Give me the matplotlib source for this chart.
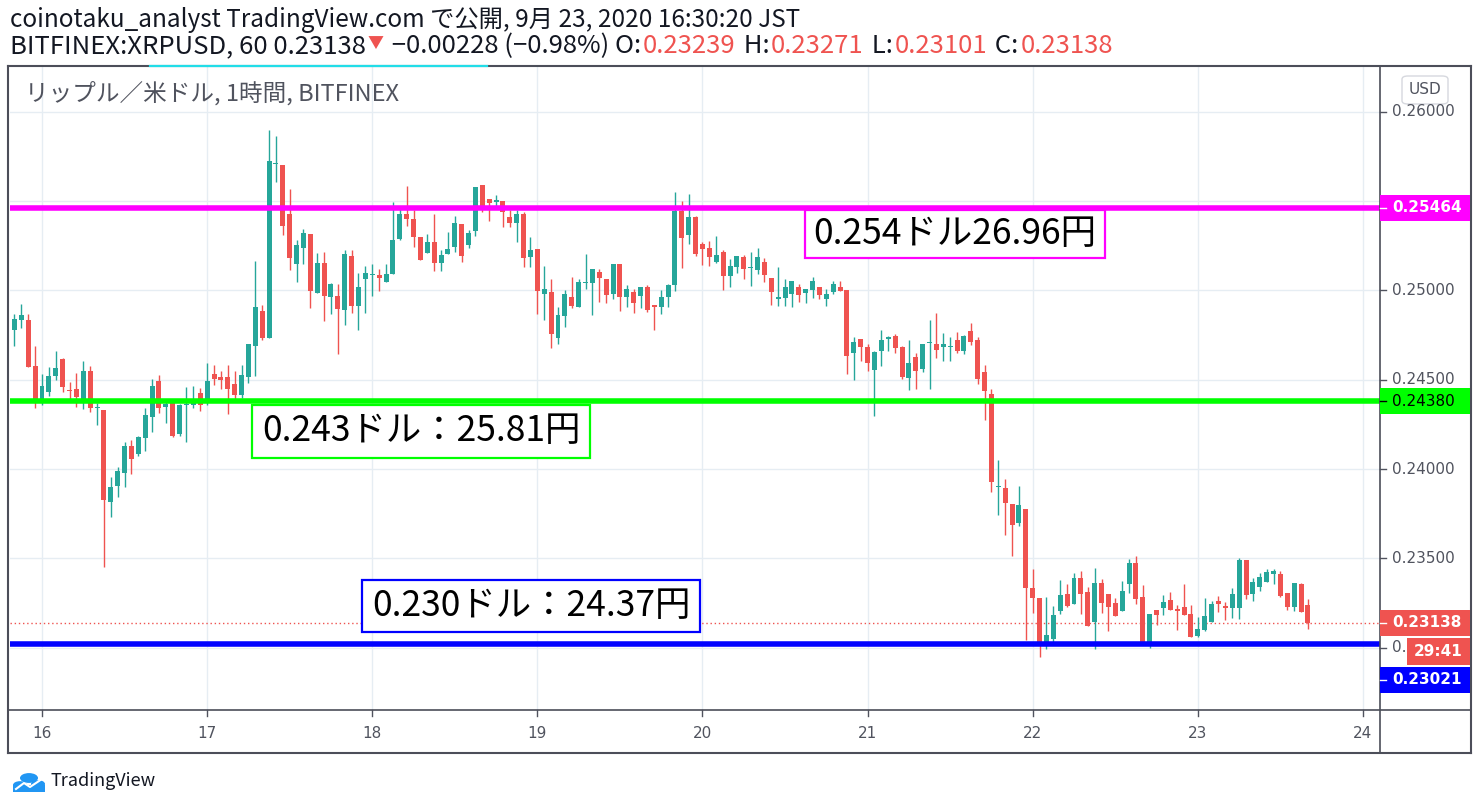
import matplotlib
matplotlib.use("Agg")
import matplotlib.pyplot as plt
import matplotlib.dates as mdates
import matplotlib.transforms as mtransforms
from matplotlib.patches import Rectangle, FancyBboxPatch, Circle
import numpy as np
import pandas as pd

W, H = 1481, 809
plt.rcParams['font.family'] = ['Noto Sans CJK JP', 'DejaVu Sans']

# 1時間足 XRPUSD (BITFINEX), 9/15 20:00 JST から
times = pd.date_range("2020-09-15 20:00", periods=189, freq="h")
opens = [
    0.24778, 0.24833, 0.24833, 0.24578, 0.24383, 0.24430, 0.24519, 0.24617, 0.24444, 0.24450,
    0.24383, 0.24550, 0.24341, 0.24333, 0.23817, 0.23906, 0.23980, 0.24128, 0.24083, 0.24174,
    0.24294, 0.24494, 0.24346, 0.24380, 0.24194, 0.24356, 0.24361, 0.24428, 0.24383, 0.24532,
    0.24515, 0.24515, 0.24476, 0.24416, 0.24517, 0.24690, 0.24884, 0.24735, 0.25709, 0.25702,
    0.25427, 0.25149, 0.25239, 0.25315, 0.24987, 0.25153, 0.24965, 0.24968, 0.24892, 0.25192,
    0.24914, 0.25065, 0.25088, 0.25089, 0.25046, 0.25091, 0.25290, 0.25429, 0.25402, 0.25301,
    0.25208, 0.25273, 0.25152, 0.25203, 0.25242, 0.25374, 0.25253, 0.25336, 0.25591, 0.25513,
    0.25498, 0.25502, 0.25413, 0.25376, 0.25426, 0.25186, 0.25234, 0.24980, 0.24994, 0.24733,
    0.24856, 0.24966, 0.24907, 0.25041, 0.25041, 0.25106, 0.25067, 0.24979, 0.25151, 0.24963,
    0.24994, 0.24968, 0.25017, 0.24916, 0.24907, 0.24963, 0.25030, 0.25448, 0.25310, 0.25414,
    0.25263, 0.25236, 0.25159, 0.25215, 0.25084, 0.25131, 0.25185, 0.25125, 0.25114, 0.25159,
    0.25069, 0.24951, 0.24957, 0.24979, 0.25022, 0.24985, 0.25002, 0.25017, 0.24951, 0.24991,
    0.25017, 0.25000, 0.24648, 0.24730, 0.24685, 0.24554, 0.24659, 0.24726, 0.24746, 0.24685,
    0.24509, 0.24630, 0.24559, 0.24704, 0.24702, 0.24681, 0.24681, 0.24724, 0.24663, 0.24774,
    0.24724, 0.24541, 0.24419, 0.23898, 0.23896, 0.23802, 0.23698, 0.23774, 0.23335, 0.23277,
    0.23019, 0.23047, 0.23206, 0.23300, 0.23243, 0.23389, 0.23311, 0.23142, 0.23361, 0.23300,
    0.23249, 0.23204, 0.23356, 0.23474, 0.23283, 0.23019, 0.23210, 0.23221, 0.23266, 0.23215,
    0.23227, 0.23187, 0.23064, 0.23097, 0.23142, 0.23260, 0.23232, 0.23221, 0.23221, 0.23491,
    0.23300, 0.23339, 0.23367, 0.23412, 0.23412, 0.23305, 0.23227, 0.23356, 0.23239,
]
highs = [
    0.24869, 0.24922, 0.24867, 0.24689, 0.24533, 0.24572, 0.24661, 0.24620, 0.24489, 0.24539,
    0.24606, 0.24578, 0.24369, 0.24333, 0.23956, 0.24011, 0.24150, 0.24165, 0.24183, 0.24341,
    0.24506, 0.24528, 0.24393, 0.24393, 0.24365, 0.24459, 0.24467, 0.24456, 0.24594, 0.24582,
    0.24548, 0.24582, 0.24548, 0.24582, 0.24700, 0.25164, 0.24918, 0.25898, 0.25864, 0.25702,
    0.25567, 0.25282, 0.25343, 0.25315, 0.25209, 0.25215, 0.25041, 0.25035, 0.25226, 0.25226,
    0.25097, 0.25136, 0.25147, 0.25123, 0.25151, 0.25496, 0.25461, 0.25586, 0.25450, 0.25301,
    0.25318, 0.25429, 0.25229, 0.25329, 0.25418, 0.25374, 0.25340, 0.25580, 0.25591, 0.25513,
    0.25535, 0.25502, 0.25450, 0.25450, 0.25437, 0.25301, 0.25234, 0.25139, 0.25067, 0.24910,
    0.25000, 0.25073, 0.25067, 0.25202, 0.25123, 0.25123, 0.25067, 0.25146, 0.25151, 0.25028,
    0.25011, 0.25022, 0.25028, 0.24916, 0.25000, 0.25034, 0.25549, 0.25504, 0.25543, 0.25420,
    0.25274, 0.25275, 0.25303, 0.25225, 0.25174, 0.25191, 0.25197, 0.25214, 0.25236, 0.25180,
    0.25069, 0.25129, 0.25062, 0.25056, 0.25039, 0.25006, 0.25073, 0.25022, 0.25011, 0.25056,
    0.25051, 0.25000, 0.24742, 0.24730, 0.24702, 0.24663, 0.24780, 0.24746, 0.24757, 0.24691,
    0.24724, 0.24652, 0.24702, 0.24835, 0.24874, 0.24763, 0.24741, 0.24769, 0.24752, 0.24819,
    0.24741, 0.24585, 0.24448, 0.24052, 0.23946, 0.23802, 0.23907, 0.23774, 0.23441, 0.23277,
    0.23283, 0.23232, 0.23378, 0.23356, 0.23418, 0.23429, 0.23339, 0.23446, 0.23384, 0.23300,
    0.23277, 0.23373, 0.23496, 0.23513, 0.23350, 0.23187, 0.23210, 0.23294, 0.23311, 0.23238,
    0.23356, 0.23238, 0.23170, 0.23277, 0.23260, 0.23288, 0.23255, 0.23333, 0.23502, 0.23491,
    0.23389, 0.23418, 0.23440, 0.23440, 0.23429, 0.23305, 0.23361, 0.23361, 0.23271,
]
lows = [
    0.24689, 0.24791, 0.24569, 0.24341, 0.24359, 0.24411, 0.24498, 0.24430, 0.24393, 0.24346,
    0.24335, 0.24319, 0.24244, 0.23452, 0.23733, 0.23844, 0.23900, 0.23972, 0.24074, 0.24100,
    0.24206, 0.24311, 0.24256, 0.24178, 0.24183, 0.24150, 0.24344, 0.24324, 0.24357, 0.24472,
    0.24450, 0.24310, 0.24390, 0.24395, 0.24483, 0.24522, 0.24724, 0.24735, 0.25608, 0.25312,
    0.25116, 0.25049, 0.25149, 0.24903, 0.24987, 0.24830, 0.24869, 0.24645, 0.24808, 0.24875,
    0.24780, 0.24875, 0.24970, 0.24996, 0.25046, 0.25091, 0.25281, 0.25359, 0.25245, 0.25173,
    0.25208, 0.25108, 0.25108, 0.25203, 0.25214, 0.25158, 0.25236, 0.25303, 0.25442, 0.25387,
    0.25476, 0.25353, 0.25353, 0.25273, 0.25130, 0.25130, 0.24868, 0.24835, 0.24677, 0.24700,
    0.24795, 0.24901, 0.24907, 0.25006, 0.24862, 0.24935, 0.24929, 0.24951, 0.24884, 0.24907,
    0.24873, 0.24901, 0.24879, 0.24778, 0.24868, 0.24907, 0.24998, 0.25125, 0.25259, 0.25192,
    0.25142, 0.25137, 0.25154, 0.25002, 0.25019, 0.25097, 0.25067, 0.25024, 0.25092, 0.25047,
    0.24918, 0.24912, 0.24912, 0.24906, 0.24934, 0.24929, 0.24957, 0.24951, 0.24912, 0.24979,
    0.24996, 0.24535, 0.24500, 0.24603, 0.24548, 0.24298, 0.24576, 0.24659, 0.24648, 0.24504,
    0.24443, 0.24448, 0.24543, 0.24448, 0.24620, 0.24604, 0.24604, 0.24648, 0.24643, 0.24693,
    0.24476, 0.24276, 0.23870, 0.23743, 0.23631, 0.23515, 0.23681, 0.23042, 0.23193, 0.22947,
    0.22992, 0.23032, 0.23187, 0.23228, 0.23243, 0.23187, 0.23120, 0.22992, 0.23193, 0.23092,
    0.23176, 0.23204, 0.23305, 0.23243, 0.23019, 0.22996, 0.23125, 0.23182, 0.23210, 0.23097,
    0.23183, 0.23058, 0.23058, 0.23092, 0.23142, 0.23198, 0.23153, 0.23165, 0.23159, 0.23271,
    0.23260, 0.23316, 0.23367, 0.23356, 0.23283, 0.23210, 0.23204, 0.23198, 0.23101,
]
closes = [
    0.24839, 0.24861, 0.24569, 0.24393, 0.24467, 0.24522, 0.24567, 0.24461, 0.24435, 0.24406,
    0.24550, 0.24341, 0.24346, 0.23828, 0.23900, 0.23989, 0.24128, 0.24056, 0.24178, 0.24300,
    0.24467, 0.24341, 0.24365, 0.24183, 0.24356, 0.24361, 0.24374, 0.24357, 0.24494, 0.24505,
    0.24500, 0.24450, 0.24416, 0.24526, 0.24700, 0.24907, 0.24735, 0.25724, 0.25713, 0.25362,
    0.25183, 0.25254, 0.25321, 0.24998, 0.25153, 0.24970, 0.25035, 0.24897, 0.25203, 0.24914,
    0.25019, 0.25097, 0.25091, 0.25069, 0.25095, 0.25284, 0.25426, 0.25398, 0.25297, 0.25173,
    0.25273, 0.25152, 0.25201, 0.25234, 0.25379, 0.25191, 0.25323, 0.25580, 0.25465, 0.25491,
    0.25502, 0.25437, 0.25376, 0.25426, 0.25180, 0.25229, 0.24996, 0.25006, 0.24759, 0.24860,
    0.24983, 0.24912, 0.25045, 0.25050, 0.25123, 0.25069, 0.24974, 0.25146, 0.24963, 0.25011,
    0.24929, 0.25022, 0.24890, 0.24907, 0.24966, 0.25028, 0.25448, 0.25293, 0.25414, 0.25203,
    0.25231, 0.25187, 0.25197, 0.25084, 0.25140, 0.25191, 0.25120, 0.25129, 0.25185, 0.25086,
    0.24991, 0.24961, 0.25022, 0.25056, 0.24974, 0.25006, 0.25051, 0.24974, 0.24983, 0.25039,
    0.24996, 0.24631, 0.24713, 0.24682, 0.24593, 0.24657, 0.24724, 0.24741, 0.24676, 0.24515,
    0.24596, 0.24548, 0.24702, 0.24707, 0.24665, 0.24702, 0.24685, 0.24659, 0.24746, 0.24709,
    0.24504, 0.24437, 0.23926, 0.23906, 0.23809, 0.23687, 0.23796, 0.23331, 0.23276, 0.23028,
    0.23069, 0.23182, 0.23294, 0.23234, 0.23389, 0.23300, 0.23120, 0.23361, 0.23249, 0.23227,
    0.23176, 0.23316, 0.23474, 0.23271, 0.23028, 0.23187, 0.23183, 0.23255, 0.23210, 0.23206,
    0.23183, 0.23058, 0.23103, 0.23176, 0.23243, 0.23243, 0.23221, 0.23300, 0.23491, 0.23294,
    0.23367, 0.23395, 0.23423, 0.23429, 0.23288, 0.23227, 0.23361, 0.23198, 0.23138,
]

# 水平線と注釈
levels = [0.25464, 0.24380, 0.23021]
level_colors = ['#ff00ff', '#00ff00', '#0000ff']
level_text_colors = ['white', 'black', 'white']
notes = ['0.254ドル26.96円', '0.243ドル：25.81円', '0.230ドル：24.37円']
note_boxes = [(805, 210, 1105, 258), (252, 405, 590, 458), (362, 580, 700, 632)]  # px

price_ticks = [0.23000, 0.23500, 0.24000, 0.24500, 0.25000, 0.25500, 0.26000]
day_ticks = pd.date_range("2020-09-16", "2020-09-24", freq="D")
day_labels = [str(d.day) for d in day_ticks]
prev_close = 0.23366

UP, DOWN = '#26a69a', '#ef5350'
TXT, GRAY, FRAME, GRID = '#131722', '#50535e', '#4c4e59', '#e6edf3'


def fx(x):
    return x / W


def fy(y):
    return 1 - y / H


fig = plt.figure(figsize=(W / 100, H / 100), dpi=100)
fig.patch.set_facecolor('white')
ax = fig.add_axes([fx(10), fy(710), fx(1380) - fx(10), fy(67) - fy(710)])
ax.set_facecolor('white')
for s in ax.spines.values():
    s.set_visible(False)

t = mdates.date2num(times)
o, h, l, c = map(np.array, (opens, highs, lows, closes))
d16 = mdates.date2num(pd.Timestamp("2020-09-16"))
px_day = 165.12
ax.set_xlim(d16 - 32 / px_day, d16 + 1338 / px_day)
ax.set_ylim(0.22650, 0.26252)
dpp = (0.26252 - 0.22650) / 643  # price per pixel

for d in mdates.date2num(day_ticks):
    ax.axvline(d, color=GRID, lw=1, zorder=0)
for p in price_ticks:
    ax.axhline(p, color=GRID, lw=1, zorder=0)
ax.set_xticks([])
ax.set_yticks([])

col = np.where(c >= o, UP, DOWN)
ax.vlines(t, l, h, colors=col, lw=1, zorder=3)
body_lo = np.minimum(o, c)
body_h = np.maximum(np.abs(c - o), 1.2 * dpp)
ax.bar(t, body_h, bottom=body_lo, width=5 / px_day, color=col, linewidth=0, zorder=4)

for lv, lc in zip(levels, level_colors):
    ax.axhline(lv, color=lc, lw=4, zorder=5)
ax.axhline(c[-1], color=DOWN, lw=1, ls=(0, (1, 2)), zorder=2)

# 注釈ボックス
for (x0, y0, x1, y1), lc, s in zip(note_boxes, level_colors, notes):
    fig.add_artist(Rectangle((fx(x0), fy(y1)), fx(x1) - fx(x0), fy(y0) - fy(y1),
                             transform=fig.transFigure, facecolor='white',
                             edgecolor=lc, lw=1.6, zorder=6))
    fig.text(fx((x0 + x1) / 2), fy((y0 + y1) / 2), s, ha='center', va='center',
             fontsize=25.5, color='black', zorder=7)


# 枠
def hline(x0, x1, y, color=FRAME, lw=1.5, z=8):
    fig.add_artist(plt.Line2D([fx(x0), fx(x1)], [fy(y), fy(y)], transform=fig.transFigure,
                              color=color, lw=lw, zorder=z))


def vline(x, y0, y1, color=FRAME, lw=1.5, z=8):
    fig.add_artist(plt.Line2D([fx(x), fx(x)], [fy(y0), fy(y1)], transform=fig.transFigure,
                              color=color, lw=lw, zorder=z))


hline(8, 1471, 66)
hline(8, 1471, 753)
hline(8, 1471, 710, lw=1.2)
vline(8, 66, 753)
vline(1471, 66, 753)
vline(1380, 66, 753, lw=1.2)
hline(150, 487, 66, color='#22dde8', lw=1.6, z=9)

# 価格軸
bt = mtransforms.blended_transform_factory(fig.transFigure, ax.transData)
right_labels = [
    (levels[0], f"{levels[0]:.5f}", level_colors[0], level_text_colors[0], 'bold'),
    (levels[1], f"{levels[1]:.5f}", level_colors[1], level_text_colors[1], 'normal'),
    (c[-1], f"{c[-1]:.5f}", DOWN, 'white', 'bold'),
    (c[-1] - 57 * dpp, f"{levels[2]:.5f}", level_colors[2], 'white', 'bold'),
]
for p in price_ticks:
    if min(abs(p - rl[0]) for rl in right_labels) < 20 * dpp:
        continue
    fig.text(fx(1392), p, f"{p:.5f}", transform=bt, ha='left', va='center',
             fontsize=11, color=GRAY, family='DejaVu Sans', zorder=9)
    fig.add_artist(plt.Line2D([fx(1380), fx(1386)], [p, p], transform=bt, color=GRAY, lw=1, zorder=9))

for p, s, bg, fg, fw in right_labels:
    fig.add_artist(Rectangle((fx(1380), p - 13 * dpp), fx(1470) - fx(1380), 26 * dpp,
                             transform=bt, facecolor=bg, edgecolor='none', zorder=10))
    fig.text(fx(1392), p, s, transform=bt, ha='left', va='center', fontsize=11,
             color=fg, fontweight=fw, family='DejaVu Sans', zorder=11)
    fig.add_artist(plt.Line2D([fx(1380), fx(1386)], [p, p], transform=bt, color=fg, lw=1, zorder=11))

# カウントダウン
pc = c[-1] - 28.5 * dpp
fig.add_artist(Rectangle((fx(1407), pc - 13.5 * dpp), fx(1470) - fx(1407), 27 * dpp,
                         transform=bt, facecolor=DOWN, edgecolor='none', zorder=10))
fig.text(fx(1438), pc, "29:41", transform=bt, ha='center', va='center', fontsize=11,
         color='white', fontweight='bold', family='DejaVu Sans', zorder=11)

fig.add_artist(FancyBboxPatch((fx(1402), fy(104)), fx(1448) - fx(1402), fy(76) - fy(104),
                              boxstyle="round,pad=0,rounding_size=0.004", transform=fig.transFigure,
                              facecolor='white', edgecolor='#d6d8de', lw=1, zorder=9))
fig.text(fx(1425), fy(90), "USD", ha='center', va='center', fontsize=11, color=GRAY,
         family='DejaVu Sans', zorder=10)

# 時間軸
for d, s in zip(mdates.date2num(day_ticks), day_labels):
    xd = ax.transData.transform((d, 0))[0] / W
    fig.add_artist(plt.Line2D([xd, xd], [fy(710), fy(716)], transform=fig.transFigure,
                              color=GRAY, lw=1, zorder=9))
    fig.text(xd, fy(734), s, ha='center', va='center', fontsize=11, color=GRAY,
             family='DejaVu Sans')

# ヘッダー
fig.text(fx(25), fy(93), "リップル／米ドル, 1時間, BITFINEX", ha='left', va='center',
         fontsize=17, color=GRAY, zorder=9)
fig.text(fx(10), fy(20), "coinotaku_analyst TradingView.com で公開, 9月 23, 2020 16:30:20 JST",
         ha='left', va='center', fontsize=17.5, color=TXT)

chg = c[-1] - prev_close
fs2 = 18.5
parts = [
    (f"BITFINEX:XRPUSD, 60 {c[-1]:.5f}", TXT, fs2),
    ("▼", DOWN, 11.5),
    (f" −{abs(chg):.5f} (−{abs(chg) / prev_close * 100:.2f}%) O:", TXT, fs2),
    (f"{o[-1]:.5f}", DOWN, fs2),
    (" H:", TXT, fs2),
    (f"{h[-1]:.5f}", DOWN, fs2),
    (" L:", TXT, fs2),
    (f"{l[-1]:.5f}", DOWN, fs2),
    (" C:", TXT, fs2),
    (f"{c[-1]:.5f}", DOWN, fs2),
]
r = fig.canvas.get_renderer()
x = fx(10)
for s, cc, fs in parts:
    yy = fy(43) if s == "▼" else fy(46)
    tx = fig.text(x, yy, s, ha='left', va='center', fontsize=fs, color=cc)
    x = tx.get_window_extent(r).x1 / W + 2 / W

# ロゴ
for cx, cy, rr in [(20, 785, 7), (29, 778, 9), (38, 784, 7)]:
    fig.add_artist(Circle((fx(cx), fy(cy)), rr / W, transform=fig.transFigure,
                          facecolor='#2196f3', edgecolor='none'))
fig.add_artist(Rectangle((fx(13), fy(792)), fx(45) - fx(13), fy(785) - fy(792),
                         transform=fig.transFigure, facecolor='#2196f3', edgecolor='none'))
fig.add_artist(plt.Line2D([fx(16), fx(24), fx(30), fx(42)], [fy(789), fy(783), fy(787), fy(779)],
                          transform=fig.transFigure, color='white', lw=1.5))
fig.text(fx(51), fy(781), "TradingView", ha='left', va='center', fontsize=13, color=TXT)

fig.savefig("out.png", dpi=100)
